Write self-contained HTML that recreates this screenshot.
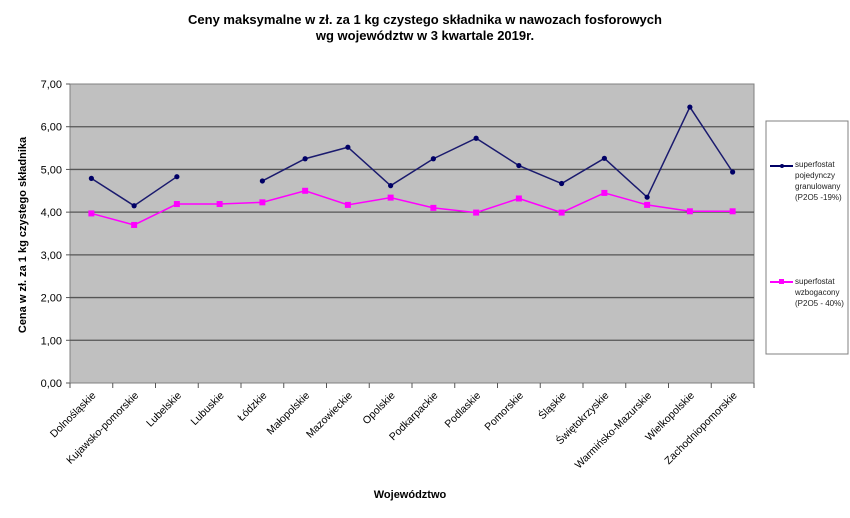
<!DOCTYPE html>
<html><head><meta charset="utf-8"><style>
body{margin:0;background:#fff;}
svg{display:block;font-family:"Liberation Sans",Arial,sans-serif;}
</style></head><body>
<svg id="s" width="850" height="518" xmlns="http://www.w3.org/2000/svg">
<text x="425" y="24" text-anchor="middle" font-size="13" font-weight="bold">Ceny maksymalne  w zł. za 1 kg czystego składnika w nawozach fosforowych</text>
<text x="425" y="40" text-anchor="middle" font-size="13" font-weight="bold">wg województw w 3 kwartale  2019r.</text>
<rect x="70" y="84" width="684" height="299" fill="#c0c0c0" stroke="#808080"/>
<g id="g"></g>
<rect x="766" y="121" width="82" height="233" fill="#fff" stroke="#808080"/>
<line x1="770" y1="166" x2="793" y2="166" stroke="#000066" stroke-width="2"/><circle cx="782" cy="166" r="2" fill="#000066"/>
<text font-size="8" fill="#222"><tspan x="795" y="167">superfostat</tspan><tspan x="795" y="178">pojedynczy</tspan><tspan x="795" y="189">granulowany</tspan><tspan x="795" y="200">(P2O5 -19%)</tspan></text>
<line x1="770" y1="282" x2="793" y2="282" stroke="#ff00ff" stroke-width="2"/><rect x="779" y="279" width="5" height="5" fill="#ff00ff"/>
<text font-size="8" fill="#222"><tspan x="795" y="284">superfostat</tspan><tspan x="795" y="295">wzbogacony</tspan><tspan x="795" y="306">(P2O5 - 40%)</tspan></text>
<text x="410" y="498" text-anchor="middle" font-size="11" font-weight="bold">Województwo</text>
<text transform="translate(26,235) rotate(-90)" text-anchor="middle" font-size="11" font-weight="bold">Cena w zł. za 1 kg czystego składnika</text>
</svg>
<script>
var g=document.getElementById('g'),ns="http://www.w3.org/2000/svg",h='';
function Y(v){return 383-v*42.714;}
for(var i=0;i<=7;i++){var y=Y(i);
 if(i>0&&i<7)h+='<line x1="70" x2="754" y1="'+y+'" y2="'+y+'" stroke="#555" stroke-width="1.3"/>';
 h+='<line x1="66" x2="70" y1="'+y+'" y2="'+y+'" stroke="#555"/>';
 h+='<text x="62" y="'+(y+4)+'" text-anchor="end" font-size="11">'+i+',00</text>';}
var w=42.75,names=["Dolnośląskie","Kujawsko-pomorskie","Lubelskie","Lubuskie","Łódzkie","Małopolskie","Mazowieckie","Opolskie","Podkarpackie","Podlaskie","Pomorskie","Śląskie","Świętokrzyskie","Warmińsko-Mazurskie","Wielkopolskie","Zachodniopomorskie"];
for(var i=0;i<=16;i++){var x=70+i*w;h+='<line x1="'+x+'" x2="'+x+'" y1="383" y2="388" stroke="#555"/>';}
for(var i=0;i<16;i++){var x=70+(i+0.5)*w+5;h+='<text transform="translate('+x+',396) rotate(-45)" text-anchor="end" font-size="10.5">'+names[i]+'</text>';}
var b=[4.79,4.15,4.83,null,4.73,5.25,5.52,4.62,5.25,5.73,5.09,4.67,5.26,4.35,6.46,4.94];
var p=[3.97,3.70,4.19,4.19,4.23,4.50,4.17,4.34,4.10,3.99,4.32,3.99,4.45,4.17,4.02,4.02];
function cx(i){return 70+(i+0.5)*w;}
var d='';for(var i=0;i<16;i++){d+=(i==0?'M':'L')+cx(i)+' '+Y(p[i]);}
h+='<path d="'+d+'" fill="none" stroke="#ff00ff" stroke-width="1.5"/>';
for(var i=0;i<16;i++)h+='<rect x="'+(cx(i)-3)+'" y="'+(Y(p[i])-3)+'" width="6" height="6" fill="#ff00ff"/>';
d='';var st=true;for(var i=0;i<16;i++){if(b[i]==null){st=true;continue;}d+=(st?'M':'L')+cx(i)+' '+Y(b[i]);st=false;}
h+='<path d="'+d+'" fill="none" stroke="#1a1a6e" stroke-width="1.5"/>';
for(var i=0;i<16;i++)if(b[i]!=null)h+='<circle cx="'+cx(i)+'" cy="'+Y(b[i])+'" r="2.6" fill="#000066"/>';
g.innerHTML=h;
</script>
</body></html>
